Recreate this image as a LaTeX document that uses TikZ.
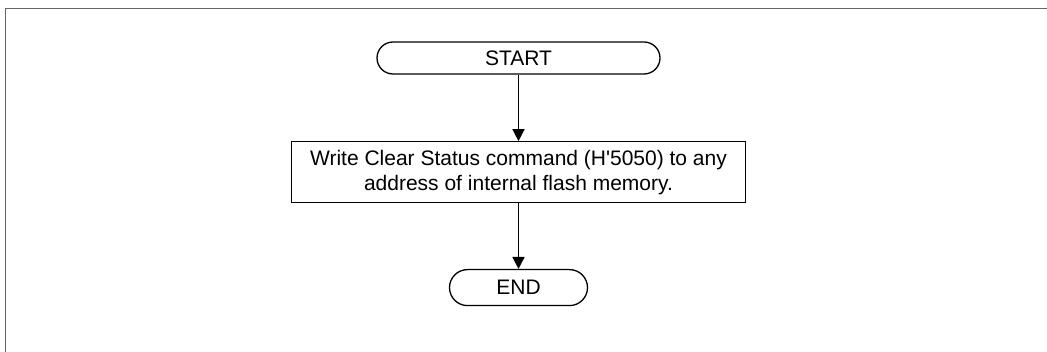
\documentclass[tikz,border=0pt]{standalone}
\usepackage{fontspec}
\setmainfont{Liberation Sans}
\usetikzlibrary{arrows.meta,positioning}
\tikzset{
    terminal/.style={
        rectangle,
        draw,
        line width=1.3pt,
        rounded corners=16pt,
        align=center,
        minimum height=32pt,
        minimum width=283pt,
        inner sep=0pt
    },
    processo/.style={
        rectangle,
        draw,
        line width=1.3pt,
        align=center,
        minimum height=61pt,
        minimum width=454pt,
        inner sep=0pt
    },
    fluxo/.style={-{Triangle[width=12pt,length=12pt]}, line width=1.5pt},
    moldura/.style={draw=black!60, line width=1.8pt}
}

\begin{document}
\begin{tikzpicture}[
        x=1pt, y=1pt,
        every node/.style={font=\fontsize{21}{25}\selectfont}
    ]
        \useasboundingbox (0,0) rectangle (1047,-352);
        \draw[moldura] (1047,-8.5) -- (5.5,-8.5) -- (5.5,-352);

        \node[terminal] (inicio) at (518.5,-58) {START};
        \node[processo, below=66.5pt of inicio] (escrever) {Write Clear Status command (H\textquotesingle5050) to any\\address of internal flash memory.};
        \node[terminal, below=65.5pt of escrever, minimum width=138pt, minimum height=36pt, rounded corners=18pt] (fim) {END};

        \draw[fluxo] (inicio) -- (escrever);
        \draw[fluxo] (escrever) -- (fim);
    \end{tikzpicture}
\end{document}
